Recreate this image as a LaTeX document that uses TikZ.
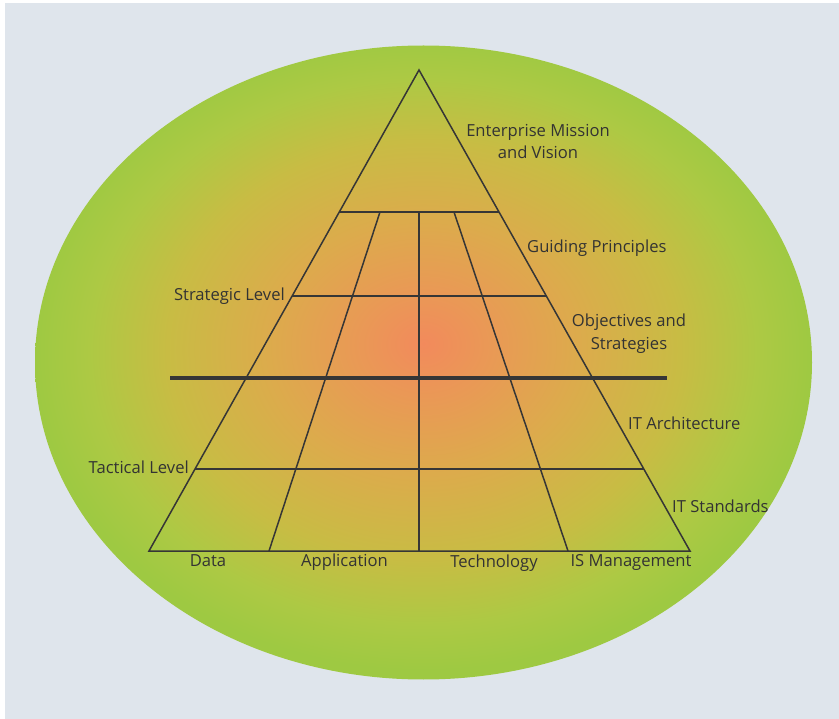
\documentclass[tikz,border=0pt]{standalone}
\usepackage{fontspec}
\setmainfont{Open Sans}
\usepackage{tikz}
\usetikzlibrary{calc}

\definecolor{bggrey}{HTML}{DFE5EC}
\definecolor{linegrey}{HTML}{363636}
\definecolor{textgrey}{HTML}{333333}
\definecolor{ellA}{HTML}{F28A5C}
\definecolor{ellB}{HTML}{EA9856}
\definecolor{ellC}{HTML}{DCAB4C}
\definecolor{ellD}{HTML}{C8BC44}
\definecolor{ellE}{HTML}{ADC944}
\definecolor{ellF}{HTML}{9EC942}

\pgfdeclareradialshading{ellshade}{\pgfpoint{0bp}{1.5bp}}{color(0bp)=(ellA); color(4bp)=(ellB); color(10bp)=(ellC); color(16.5bp)=(ellD); color(21.5bp)=(ellE); color(25bp)=(ellF); color(50bp)=(ellF)}

\tikzset{
  grid/.style={draw=linegrey, line width=1.5pt},
  bold line/.style={draw=linegrey, line width=3.5pt},
  lbl/.style={font=\fontsize{16.6}{22.5}\selectfont, text=textgrey, inner sep=0pt}
}

\begin{document}
\begin{tikzpicture}[x=1pt, y=-1pt]
\useasboundingbox (0,0) rectangle (839,719);
\fill[white] (0,0) rectangle (839,719);
\fill[bggrey] (5,3) rectangle (839,719);
\shade[shading=ellshade] (423.5,362.5) ellipse [x radius=388.5pt, y radius=317pt];

% pyramid
\coordinate (T) at (419,70); \coordinate (L) at (149,551); \coordinate (R) at (690,551);
\draw[grid, line join=miter] (T) -- (L) -- (R) -- cycle;

\coordinate (A1) at ($(T)!0.2952!(L)$); \coordinate (B1) at ($(T)!0.2952!(R)$);
\coordinate (A2) at ($(T)!0.4699!(L)$); \coordinate (B2) at ($(T)!0.4699!(R)$);
\coordinate (A4) at ($(T)!0.8295!(L)$); \coordinate (B4) at ($(T)!0.8295!(R)$);
\draw[grid] (A1) -- (B1);
\draw[grid] (A2) -- (B2);
\draw[grid] (A4) -- (B4);

\coordinate (HL) at (170,378); \coordinate (HR) at (667,378);
\draw[bold line] (HL) -- (HR);

\coordinate (P1) at (380,212); \coordinate (P2) at (269,551);
\coordinate (M1) at (419,212); \coordinate (M2) at (419,551);
\coordinate (Q1) at (454,212); \coordinate (Q2) at (568,551);
\draw[grid] (P1) -- (P2);
\draw[grid] (M1) -- (M2);
\draw[grid] (Q1) -- (Q2);

% labels
\node (mission) [lbl, align=center, anchor=north] at (538,124) {Enterprise Mission\\and Vision};
\node (guide) [lbl, anchor=base west] at (527,253) {Guiding Principles};
\node (strat) [lbl, anchor=base east] at (285,301) {Strategic Level};
\node (obj) [lbl, align=center, anchor=north] at (629,314) {Objectives and\\Strategies};
\node (arch) [lbl, anchor=base west] at (628,430) {IT Architecture};
\node (tact) [lbl, anchor=base east] at (189,474) {Tactical Level};
\node (std) [lbl, anchor=base west] at (672,513) {IT Standards};

\node (data) [lbl, anchor=base] at (208,566) {Data};
\node (app) [lbl, anchor=base] at (344.5,566) {Application};
\node (tech) [lbl, anchor=base] at (494,567) {Technology};
\node (ism) [lbl, anchor=base] at (631,566) {IS Management};

\end{tikzpicture}
\end{document}
